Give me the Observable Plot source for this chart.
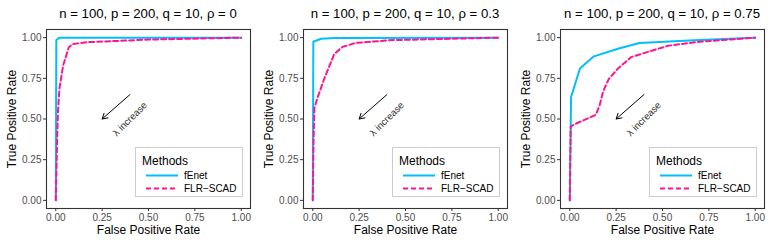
<!DOCTYPE html>
<html><head><meta charset="utf-8">
<script src="https://cdn.jsdelivr.net/npm/d3@7"></script>
<script src="https://cdn.jsdelivr.net/npm/@observablehq/plot@0.6"></script>
<style>
body{margin:0;background:#fff;font-family:"Liberation Sans",Arial,Helvetica,sans-serif;}
#row{display:flex;width:772px;height:244px;}
.panel{position:relative;width:257px;height:244px;flex:none;}
.title{height:24px;line-height:27px;font-size:13.2px;color:#000;text-align:center;width:204px;margin-left:46px;white-space:nowrap;}
.legend{position:absolute;left:135px;top:147px;}
svg{display:block;}
</style>
</head><body>
<div id="row"></div>
<script>
// ---- data ----
const methods = ["fEnet", "FLR−SCAD"];
const methodColors = ["#00BFFF", "#FF1493"];
const panelTitles = [
  "n = 100, p = 200, q = 10, ρ = 0",
  "n = 100, p = 200, q = 10, ρ = 0.3",
  "n = 100, p = 200, q = 10, ρ = 0.75"
];
const tickValues = [0, 0.25, 0.5, 0.75, 1];

// rho = 0
const fpr_r0_fenet = [0, 0.003, 0.02, 1];
const tpr_r0_fenet = [0, 0.985, 1, 1];
const fpr_r0_scad  = [0, 0.004, 0.008, 0.012, 0.02, 0.04, 0.07, 0.09, 0.17, 0.5, 1];
const tpr_r0_scad  = [0, 0.2, 0.4, 0.55, 0.69, 0.83, 0.94, 0.96, 0.972, 0.988, 1];
// rho = 0.3
const fpr_r3_fenet = [0, 0.003, 0.045, 0.12, 1];
const tpr_r3_fenet = [0, 0.975, 0.993, 0.998, 1];
const fpr_r3_scad  = [0, 0.004, 0.009, 0.027, 0.062, 0.116, 0.16, 0.23, 0.41, 1];
const tpr_r3_scad  = [0, 0.35, 0.57, 0.635, 0.748, 0.9, 0.943, 0.967, 0.984, 1];
// rho = 0.75
const fpr_r75_fenet = [0, 0.007, 0.055, 0.13, 0.26, 0.375, 0.7, 1];
const tpr_r75_fenet = [0, 0.635, 0.81, 0.885, 0.932, 0.967, 0.985, 1];
const fpr_r75_scad  = [0, 0.005, 0.05, 0.14, 0.16, 0.18, 0.21, 0.26, 0.33, 0.4, 0.53, 0.7, 1];
const tpr_r75_scad  = [0, 0.455, 0.48, 0.525, 0.58, 0.67, 0.745, 0.81, 0.88, 0.905, 0.95, 0.975, 1];

// annotation (same in every panel)
const arrowFrom = [0.4, 0.65];
const arrowTo = [0.25, 0.5];
const annotLabel = {x: 0.4, y: 0.5, text: "λ increase"};

const panels = [
  [[fpr_r0_fenet, tpr_r0_fenet], [fpr_r0_scad, tpr_r0_scad]],
  [[fpr_r3_fenet, tpr_r3_fenet], [fpr_r3_scad, tpr_r3_scad]],
  [[fpr_r75_fenet, tpr_r75_fenet], [fpr_r75_scad, tpr_r75_scad]]
];

const font = '"Liberation Sans", Arial, Helvetica, sans-serif';
const row = document.getElementById("row");

function legendSVG() {
  const s = d3.create("svg").attr("width", 109).attr("height", 51)
    .style("font-family", font);
  s.append("rect").attr("x", 0.5).attr("y", 0.5).attr("width", 107).attr("height", 49)
    .attr("fill", "white").attr("stroke", "#cccccc").attr("stroke-width", 1);
  s.append("text").attr("x", 7).attr("y", 17.5).attr("font-size", 12).attr("fill", "#000").text("Methods");
  methods.forEach((m, i) => {
    const y = 28.5 + i * 13;
    s.append("line").attr("x1", 11).attr("x2", 43).attr("y1", y).attr("y2", y)
      .attr("stroke", methodColors[i]).attr("stroke-width", 2)
      .attr("stroke-dasharray", i === 1 ? "5,3" : null);
    s.append("text").attr("x", 49).attr("y", y + 3.5).attr("font-size", 10).attr("fill", "#000").text(m);
  });
  return s.node();
}

panels.forEach((series, p) => {
  const div = document.createElement("div");
  div.className = "panel";
  const t = document.createElement("div");
  t.className = "title";
  t.textContent = panelTitles[p];
  div.appendChild(t);

  const lineMarks = series.map(([xs, ys], i) => {
    const data = xs.map((x, k) => ({x, y: ys[k]}));
    return Plot.line(data, {
      x: "x", y: "y", stroke: methodColors[i], strokeWidth: 2,
      strokeDasharray: i === 1 ? "5,3" : null, curve: "linear"
    });
  });

  const chart = Plot.plot({
    width: 257, height: 220,
    marginLeft: 46, marginRight: 7, marginTop: 5, marginBottom: 36,
    style: {fontFamily: font, background: "white", fontSize: "10px"},
    x: {domain: [-0.05, 1.05]},
    y: {domain: [-0.05, 1.05]},
    marks: [
      Plot.axisX(tickValues, {tickSize: 3, tickPadding: 2, tickFormat: d3.format(".2f"),
        fontSize: 10, fill: "#4d4d4d", stroke: "#333", label: null}),
      Plot.axisY(tickValues, {tickSize: 3, tickPadding: 2, tickFormat: d3.format(".2f"),
        fontSize: 10, fill: "#4d4d4d", stroke: "#333", label: null}),
      Plot.text(["False Positive Rate"], {frameAnchor: "bottom", lineAnchor: "middle", dy: 22,
        fontSize: 12, fill: "#000"}),
      Plot.text(["True Positive Rate"], {frameAnchor: "left", textAnchor: "middle", lineAnchor: "middle",
        dx: -34, rotate: -90, fontSize: 12, fill: "#000"}),
      ...lineMarks,
      Plot.arrow([{x1: arrowFrom[0], y1: arrowFrom[1], x2: arrowTo[0], y2: arrowTo[1]}],
        {x1: "x1", y1: "y1", x2: "x2", y2: "y2", stroke: "#000", strokeWidth: 1, headLength: 9}),
      Plot.text([annotLabel], {x: "x", y: "y", text: "text", rotate: -45, fontSize: 9.6, fill: "#333"}),
      Plot.frame({stroke: "#333", strokeWidth: 1.1})
    ]
  });
  div.appendChild(chart);
  const lg = document.createElement("div");
  lg.className = "legend";
  lg.appendChild(legendSVG());
  div.appendChild(lg);
  row.appendChild(div);
});
</script>
</body></html>
